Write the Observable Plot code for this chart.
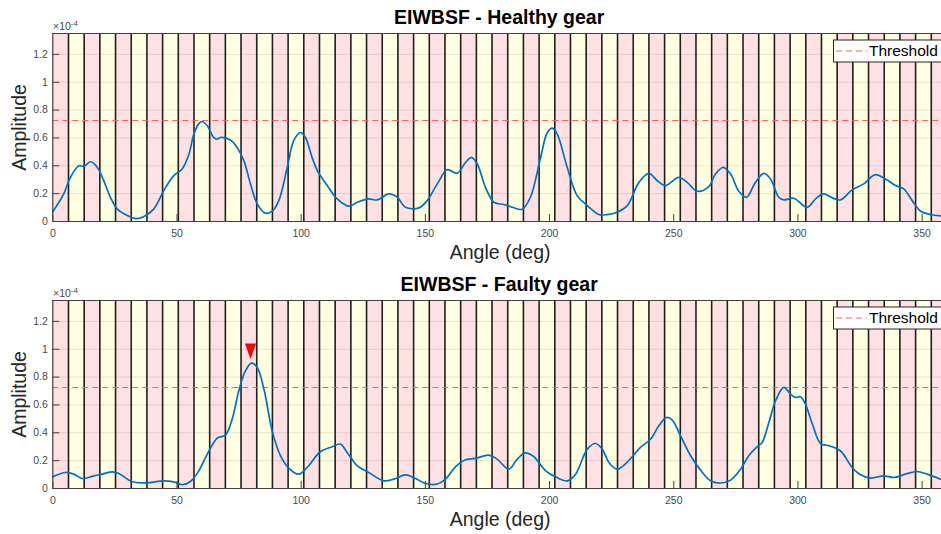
<!DOCTYPE html>
<html><head><meta charset="utf-8">
<script src="https://cdn.jsdelivr.net/npm/d3@7"></script>
<script src="https://cdn.jsdelivr.net/npm/@observablehq/plot@0.6"></script>
<style>
body{margin:0;background:#fff;}
#chart{width:941px;overflow:hidden;}
#chart svg{display:block;}
</style>
</head><body><div id="chart"></div>
<script>
// ---- data ----
const titles = ["EIWBSF - Healthy gear", "EIWBSF - Faulty gear"];
const xLabel = "Angle (deg)";
const yLabel = "Amplitude";
const yExponentBase = "×10";
const yExponentPower = "-4";
const legendLabel = "Threshold";
const toothCount = 57;
const xTicks = [0, 50, 100, 150, 200, 250, 300, 350];
const yTicks = [0, 0.2, 0.4, 0.6, 0.8, 1, 1.2];
const yTickLabels = ["0", "0.2", "0.4", "0.6", "0.8", "1", "1.2"];
const threshold = 0.725;

const healthyAngle = [0,4.4,7.1,10.5,12.5,15.2,17.9,20.5,23.2,25.9,30,33.6,36.7,40.7,44.7,48.7,52.1,54.8,56.8,58.8,60.1,62.2,64.8,66.2,67.5,71.5,74.2,76.9,79.6,82.3,85.6,88.3,91,94.4,97,99.7,101.7,104.4,106.5,110.5,114.5,119.2,122.6,127.2,130.6,135.3,138.7,142,147.4,150.7,154.8,158.8,162.8,166.2,168.5,170.9,174.2,177.6,181.6,185,189,192.3,196.4,199.1,201.1,203.1,207.1,211.1,215.2,219.8,223.2,227.2,231.3,236,240,243.4,246.7,252,255.4,259.5,264.1,266.8,269.9,272.9,276.2,279.3,282.9,286.3,289,292.3,294.3,298.3,303.7,307.1,310.4,313.8,317.1,321.8,326.5,331.2,335.2,339.3,342.6,346,349.4,353.4,357.4];
const healthyAmp = [0.07,0.198,0.317,0.40,0.396,0.429,0.389,0.293,0.174,0.091,0.043,0.021,0.036,0.091,0.222,0.329,0.377,0.484,0.628,0.703,0.718,0.687,0.603,0.592,0.603,0.585,0.532,0.437,0.27,0.127,0.06,0.074,0.15,0.389,0.58,0.639,0.603,0.46,0.365,0.258,0.162,0.11,0.138,0.162,0.155,0.198,0.174,0.102,0.098,0.15,0.27,0.372,0.346,0.424,0.46,0.413,0.245,0.138,0.122,0.102,0.088,0.174,0.46,0.639,0.67,0.628,0.389,0.186,0.114,0.05,0.05,0.067,0.114,0.281,0.346,0.293,0.258,0.317,0.281,0.217,0.25,0.341,0.389,0.341,0.217,0.174,0.281,0.346,0.305,0.174,0.155,0.167,0.102,0.162,0.198,0.17,0.155,0.227,0.27,0.336,0.305,0.258,0.234,0.15,0.074,0.05,0.041];

const faultyAngle = [0,5.1,8.5,11.8,16.5,19.9,23.9,26.6,32,37.3,44.7,48.7,52.1,55.4,58.8,62.2,66.2,69.5,72.2,74.9,77.6,80,82.3,85,88.3,91.7,95,99,102.4,107.8,112.5,115.8,118.5,122.6,127.2,133.3,137.3,142,146,150.1,154.8,158.1,162.1,166.2,170.2,175.5,178.9,183.6,187,190.3,193.7,198.4,202.4,207.1,210.5,215.2,218.5,221.2,223.9,227.2,231.3,236.6,240.7,244,247.1,249.4,252.7,256.8,260.8,264.8,268.2,272.9,276.9,280.2,283.6,285.6,288.3,291,294.3,297,299,301,303,305.8,309.1,312.5,317.1,321.8,325.2,329.2,334.5,338.6,343.3,347.9,352,357.4];
const faultyAmp = [0.084,0.115,0.103,0.072,0.091,0.103,0.12,0.108,0.048,0.041,0.055,0.048,0.027,0.05,0.127,0.247,0.362,0.384,0.498,0.702,0.846,0.9,0.869,0.714,0.414,0.235,0.147,0.103,0.151,0.266,0.3,0.319,0.259,0.163,0.115,0.055,0.067,0.098,0.072,0.036,0.032,0.067,0.156,0.206,0.216,0.24,0.211,0.139,0.211,0.256,0.228,0.127,0.084,0.055,0.103,0.283,0.323,0.283,0.187,0.139,0.19,0.295,0.355,0.45,0.51,0.491,0.379,0.235,0.132,0.055,0.039,0.06,0.139,0.235,0.3,0.33,0.474,0.63,0.726,0.678,0.654,0.659,0.606,0.463,0.323,0.307,0.271,0.151,0.098,0.075,0.091,0.079,0.103,0.122,0.103,0.067];

const faultMarkAngle = [79.6];
const faultMarkAmp = [0.986];

// ---- styles ----
const W = 941, H = 267, ML = 52.3, MR = 0, MT = 33, MB = 46;
const pink = "#ffe1e4", yellow = "#ffffe1";
const lineBlue = "#0072bd";
const thrColor = "#ff5a5a";
const axisGray = "#404040";
const font = "'Liberation Sans', Arial, Helvetica, sans-serif";

const bands = d3.range(toothCount).map(i => ({
  x1: i * 360 / toothCount, x2: (i + 1) * 360 / toothCount, odd: i % 2 === 1
}));
const edges = d3.range(1, toothCount).map(i => i * 360 / toothCount);

const downTriangle = {
  draw(ctx) { ctx.moveTo(-5.6, -7.8); ctx.lineTo(5.6, -7.8); ctx.lineTo(0, 7.8); ctx.closePath(); }
};

function panel(title, angle, amp, markA, markV) {
  const data = angle.map((a, i) => ({a, v: amp[i]}));
  const marks = markA.map((a, i) => ({a, v: markV[i]}));
  const plotW = W - ML - MR, plotH = H - MT - MB;
  const svg = Plot.plot({
    width: W, height: H,
    marginLeft: ML, marginRight: MR, marginTop: MT, marginBottom: MB,
    x: {domain: [0, 357.8]},
    y: {domain: [0, 1.35]},
    style: {fontFamily: font, background: "white", overflow: "hidden"},
    marks: [
      Plot.rect(bands.filter(d => !d.odd), {x1: "x1", x2: "x2", fill: pink}),
      Plot.rect(bands.filter(d => d.odd), {x1: "x1", x2: "x2", fill: yellow}),
      Plot.ruleY(yTicks.slice(1), {stroke: "#000", strokeOpacity: 0.1}),
      Plot.ruleX(edges, {stroke: "#1e1e1e", strokeWidth: 1.6}),
      Plot.ruleY([threshold], {stroke: thrColor, strokeWidth: 1, strokeDasharray: "6,4"}),
      Plot.line(data, {x: "a", y: "v", stroke: lineBlue, strokeWidth: 1.7, curve: "catmull-rom"}),
      Plot.dot(marks, {x: "a", y: "v", symbol: downTriangle, fill: "#ff0000", stroke: "none", r: 5}),
      // axes box (right side is cropped in the reference)
      Plot.ruleY([1.35], {stroke: axisGray, strokeWidth: 1.2}),
      Plot.ruleY([0], {stroke: axisGray, strokeWidth: 1.2}),
      Plot.ruleX([0], {stroke: axisGray, strokeWidth: 1.2}),
      // inward ticks
      Plot.ruleX(xTicks, {insetTop: plotH - 7, stroke: axisGray}),
      Plot.ruleY(yTicks, {insetRight: plotW - 7, stroke: axisGray}),
      Plot.axisX(xTicks, {tickSize: 0, tickPadding: 8, fontSize: 10.5, color: "#4a4a4a", label: null}),
      Plot.axisY(yTicks, {tickSize: 0, tickPadding: 5, fontSize: 10.5, color: "#4a4a4a", label: null,
        tickFormat: d => yTickLabels[yTicks.indexOf(d)]}),
      Plot.text([title], {frameAnchor: "top", textAnchor: "middle", dx: 2, dy: -23, fontSize: 19.5, fontWeight: "bold", fill: "#000"}),
      Plot.text([xLabel], {frameAnchor: "bottom", textAnchor: "middle", dx: 3, dy: 37, fontSize: 19.5, fill: "#262626"}),
      Plot.text([yLabel], {frameAnchor: "left", textAnchor: "middle", rotate: -90, dx: -33, fontSize: 19.5, fill: "#262626"})
    ]
  });
  const s = d3.select(svg);
  // exponent label above y axis
  const ex = s.append("text").attr("x", 53).attr("y", 30).attr("font-family", font)
    .attr("font-size", 10.5).attr("fill", "#4a4a4a").attr("text-anchor", "start").text(yExponentBase);
  ex.append("tspan").attr("dy", -4).attr("font-size", 8).text(yExponentPower);
  // legend inside the axes, top right
  const g = s.append("g").attr("font-family", font);
  g.append("rect").attr("x", 833.5).attr("y", 40).attr("width", 130).attr("height", 22)
    .attr("fill", "#fff").attr("stroke", "#262626").attr("stroke-width", 1);
  g.append("line").attr("x1", 836).attr("x2", 867).attr("y1", 51).attr("y2", 51)
    .attr("stroke", thrColor).attr("stroke-dasharray", "6,4");
  g.append("text").attr("x", 869).attr("y", 51).attr("dy", "0.35em").attr("font-size", 15.5)
    .attr("text-anchor", "start").attr("fill", "#000").text(legendLabel);
  return svg;
}

const root = document.getElementById("chart");
root.appendChild(panel(titles[0], healthyAngle, healthyAmp, [], []));
root.appendChild(panel(titles[1], faultyAngle, faultyAmp, faultMarkAngle, faultMarkAmp));
</script>
</body></html>
